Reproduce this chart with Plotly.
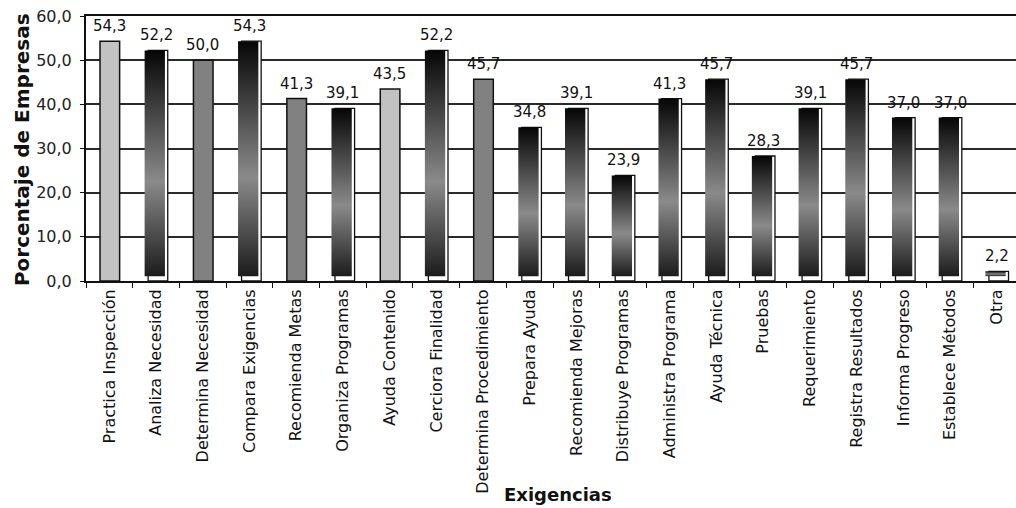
import plotly.graph_objects as go

# ---- data ----
categories = [
    "Practica Inspección", "Analiza Necesidad", "Determina Necesidad",
    "Compara Exigencias", "Recomienda Metas", "Organiza Programas",
    "Ayuda Contenido", "Cerciora Finalidad", "Determina Procedimiento",
    "Prepara Ayuda", "Recomienda Mejoras", "Distribuye Programas",
    "Administra Programa", "Ayuda Técnica", "Pruebas", "Requerimiento",
    "Registra Resultados", "Informa Progreso", "Establece Métodos", "Otra",
]
values = [54.3, 52.2, 50.0, 54.3, 41.3, 39.1, 43.5, 52.2, 45.7, 34.8,
          39.1, 23.9, 41.3, 45.7, 28.3, 39.1, 45.7, 37.0, 37.0, 2.2]
y_ticks = [0, 10, 20, 30, 40, 50, 60]

# ---- styles ----
bar_style = ["light", "dark", "medium", "dark", "medium", "dark", "light",
             "dark", "medium", "dark", "dark", "dark", "dark", "dark", "dark",
             "dark", "dark", "dark", "dark", "dark"]
flat_colors = {"light": "#c2c2c2", "medium": "#818181"}
FONT = "DejaVu Sans"

idx = list(range(len(categories)))
fig = go.Figure()

# flat (outlined) bars
for kind in ("light", "medium"):
    xs = [i for i in idx if bar_style[i] == kind]
    fig.add_trace(go.Bar(
        x=xs, y=[values[i] for i in xs], width=0.42, offset=-0.2,
        marker=dict(color=flat_colors[kind], line=dict(color="#111111", width=1.5)),
        hoverinfo="skip",
    ))

# shadow boxes behind the gradient bars
dark_idx = [i for i in idx if bar_style[i] == "dark"]
fig.add_trace(go.Bar(
    x=dark_idx, y=[values[i] for i in dark_idx], width=0.42, offset=-0.17,
    marker=dict(color="white", line=dict(color="#111111", width=1.3)),
    hoverinfo="skip",
))

# gradient bars (vertical gradient per bar)
grad_scale = [[0.0, "#1c1c1c"], [0.42, "#8a8a8a"], [1.0, "#060606"]]
for i in dark_idx:
    v = values[i]
    x0, x1 = i - 0.245, i + 0.19
    y0 = 1.1
    fig.add_trace(go.Scatter(
        x=[x0, x1, x1, x0, x0], y=[y0, y0, v, v, y0],
        mode="lines", line=dict(width=0), fill="toself",
        fillgradient=dict(type="vertical", colorscale=grad_scale),
        hoverinfo="skip",
    ))

# value labels
for i, v in zip(idx, values):
    fig.add_annotation(
        x=i, y=v, xref="x", yref="y", text=f"{v:.1f}".replace(".", ","),
        showarrow=False, yanchor="bottom", yshift=4,
        font=dict(family=FONT, size=15, color="#111111"),
    )

# axis titles
fig.add_annotation(
    x=-0.0688, y=0.494, xref="paper", yref="paper", text="<b>Porcentaje de Empresas</b>",
    showarrow=False, textangle=-90, xanchor="center", yanchor="middle",
    font=dict(family=FONT, size=20, color="#111111"),
)
fig.add_annotation(
    x=0.5075, y=-0.8075, xref="paper", yref="paper", text="<b>Exigencias</b>",
    showarrow=False, xanchor="center", yanchor="middle",
    font=dict(family=FONT, size=18, color="#111111"),
)

fig.update_xaxes(
    range=[-0.5, 19.41], tickmode="array", tickvals=idx, ticktext=categories,
    tickangle=-90, ticks="", showgrid=False, zeroline=False, automargin=False,
    showline=True, linecolor="#111111", linewidth=2, mirror=True,
    tickfont=dict(family=FONT, size=16, color="#111111"),
    minor=dict(tickmode="linear", tick0=0.5, dtick=1, ticks="outside",
               ticklen=5, tickcolor="#111111", tickwidth=1, showgrid=False),
)
fig.update_yaxes(
    range=[0, 60], tickmode="array", tickvals=y_ticks, tickformat=".1f",
    ticks="outside", ticklen=4, tickcolor="#111111", automargin=False,
    ticklabelstandoff=5,
    showgrid=True, gridcolor="#2a2a2a", gridwidth=1.6, zeroline=False,
    showline=True, linecolor="#111111", linewidth=2,
    tickfont=dict(family=FONT, size=16, color="#222222"),
)
fig.update_layout(
    width=1016, height=508, margin=dict(l=86, r=0, t=16, b=227),
    plot_bgcolor="white", paper_bgcolor="white", showlegend=False,
    barmode="overlay", separators=",.",
)
fig.write_html(
    "out.html",
    config={"displayModeBar": False},
    post_script="document.body.style.margin='0';document.body.style.padding='0';",
)
